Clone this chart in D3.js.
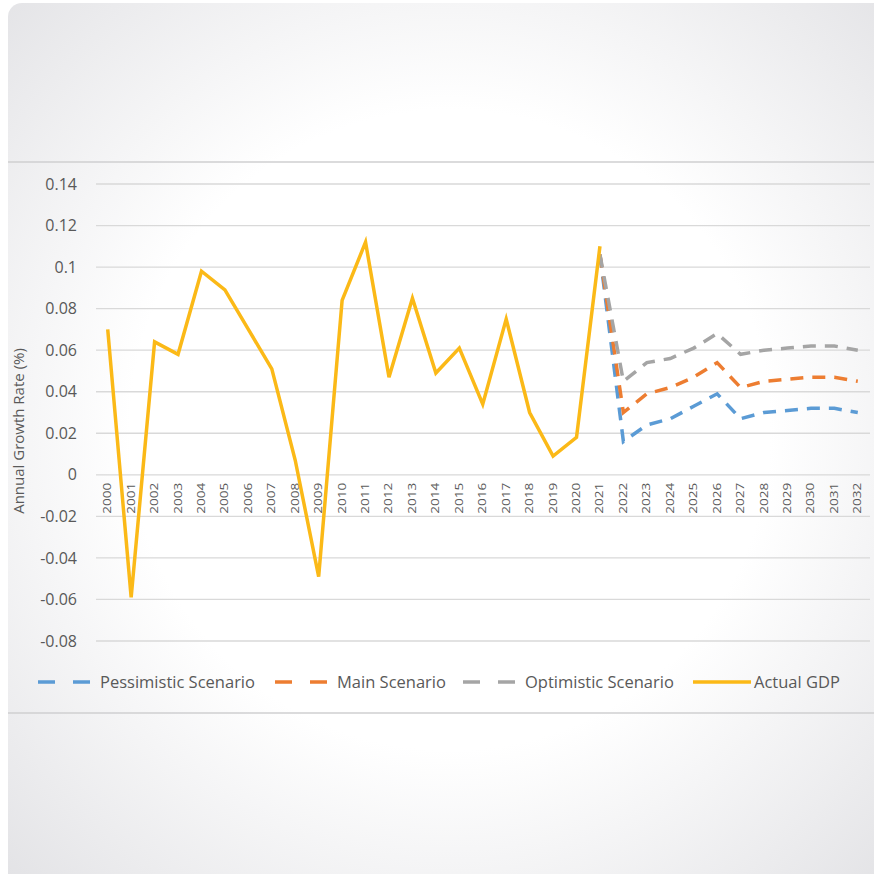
<!DOCTYPE html>
<html>
  <head>
    <meta charset="utf-8">
    <title>Annual Growth Rate</title>
    <script src="https://cdn.jsdelivr.net/npm/d3@7"></script>
    <style>
      body { margin: 0; background: #fff; }
      text { font-family: "Open Sans", "Liberation Sans", sans-serif; fill: #595959; }
    </style>
  </head>
  <body>
    <svg id="chart"></svg>
    <script>
// category labels
const years = ['2000', '2001', '2002', '2003', '2004', '2005', '2006', '2007', '2008', '2009', '2010',
  '2011', '2012', '2013', '2014', '2015', '2016', '2017', '2018', '2019', '2020', '2021',
  '2022', '2023', '2024', '2025', '2026', '2027', '2028', '2029', '2030', '2031', '2032'];

// actual GDP growth, 2000 - 2021
const actualGdp = [0.070, -0.059, 0.064, 0.058, 0.098, 0.089, 0.070, 0.051, 0.007, -0.049, 0.084,
  0.112, 0.047, 0.085, 0.049, 0.061, 0.034, 0.075, 0.030, 0.009, 0.018, 0.110];

// scenarios, 2021 - 2032
const scenarioYears = ['2021', '2022', '2023', '2024', '2025', '2026', '2027', '2028', '2029', '2030', '2031', '2032'];
const pessimistic = [0.106, 0.016, 0.024, 0.027, 0.033, 0.039, 0.027, 0.030, 0.031, 0.032, 0.032, 0.030];
const mainScenario = [0.106, 0.030, 0.039, 0.042, 0.047, 0.054, 0.042, 0.045, 0.046, 0.047, 0.047, 0.045];
const optimistic = [0.106, 0.045, 0.054, 0.056, 0.061, 0.068, 0.058, 0.060, 0.061, 0.062, 0.062, 0.060];

const yTicks = [0.14, 0.12, 0.1, 0.08, 0.06, 0.04, 0.02, 0, -0.02, -0.04, -0.06, -0.08];

const W = 874, H = 874;
const svg = d3.select('#chart').attr('width', W).attr('height', H);

// card background with soft radial shading
const defs = svg.append('defs');
const grad = defs.append('radialGradient')
  .attr('id', 'bg')
  .attr('gradientUnits', 'userSpaceOnUse')
  .attr('cx', 450).attr('cy', 430).attr('r', 640);
grad.append('stop').attr('offset', 0).attr('stop-color', '#ffffff');
grad.append('stop').attr('offset', 0.5).attr('stop-color', '#ffffff');
grad.append('stop').attr('offset', 1).attr('stop-color', '#e2e2e5');

svg.append('rect')
  .attr('x', 8).attr('y', 3)
  .attr('width', 880).attr('height', 890)
  .attr('rx', 14)
  .attr('fill', 'url(#bg)');

// separators above and below chart
[162, 713].forEach(y => {
  svg.append('line')
    .attr('x1', 8).attr('x2', W)
    .attr('y1', y).attr('y2', y)
    .attr('stroke', '#cfcfd1')
    .attr('stroke-width', 1.5);
});

const x = d3.scalePoint()
  .domain(years)
  .range([96, 869.5])
  .padding(0.5);

const y = d3.scaleLinear()
  .domain([-0.08, 0.14])
  .range([641, 184]);

// gridlines
svg.append('g')
  .selectAll('line')
  .data(yTicks)
  .join('line')
  .attr('x1', 96).attr('x2', 870)
  .attr('y1', d => y(d)).attr('y2', d => y(d))
  .attr('stroke', '#d9d9d9')
  .attr('stroke-width', 1.3);

// y tick labels (plain hyphen minus, like the original)
svg.append('g')
  .selectAll('text')
  .data(yTicks)
  .join('text')
  .attr('x', 77)
  .attr('y', d => y(d))
  .attr('dy', '0.35em')
  .attr('text-anchor', 'end')
  .attr('font-size', 16)
  .text(d => String(d));

// x labels, rotated, hanging under the zero line (narrow glyphs)
svg.append('g')
  .selectAll('text')
  .data(years)
  .join('text')
  .attr('transform', d => `translate(${x(d) + 3.5},${y(0) + 8}) rotate(-90)`)
  .attr('text-anchor', 'end')
  .attr('font-size', 10.5)
  .attr('textLength', 31)
  .attr('lengthAdjust', 'spacingAndGlyphs')
  .attr('fill', '#6a6a6a')
  .text(d => d);

// y axis title
svg.append('text')
  .attr('transform', 'translate(24,431) rotate(-90)')
  .attr('text-anchor', 'middle')
  .attr('font-size', 15)
  .text('Annual Growth Rate (%)');

const line = d3.line()
  .x(d => x(d[0]))
  .y(d => y(d[1]));

const series = [
  { name: 'Pessimistic Scenario', cats: scenarioYears, vals: pessimistic, color: '#5b9bd5', dash: '13,9' },
  { name: 'Main Scenario', cats: scenarioYears, vals: mainScenario, color: '#ed7d31', dash: '13,9' },
  { name: 'Optimistic Scenario', cats: scenarioYears, vals: optimistic, color: '#a5a5a5', dash: '13,9' },
  { name: 'Actual GDP', cats: years.slice(0, actualGdp.length), vals: actualGdp, color: '#fbb917', dash: null }
];

series.forEach(s => {
  svg.append('path')
    .datum(s.cats.map((c, i) => [c, s.vals[i]]))
    .attr('d', line)
    .attr('fill', 'none')
    .attr('stroke', s.color)
    .attr('stroke-width', 3.5)
    .attr('stroke-linejoin', 'miter')
    .attr('stroke-dasharray', s.dash);
});

// legend
const legendX = [38, 275, 463, 693];
const legend = svg.append('g');
series.forEach((s, i) => {
  const lx = legendX[i];
  const sampleW = s.dash ? 52 : 58;
  legend.append('line')
    .attr('x1', lx).attr('x2', lx + sampleW)
    .attr('y1', 682).attr('y2', 682)
    .attr('stroke', s.color)
    .attr('stroke-width', 3.5)
    .attr('stroke-dasharray', s.dash ? '17,18' : null);
  legend.append('text')
    .attr('x', lx + sampleW + (s.dash ? 10 : 3))
    .attr('y', 682)
    .attr('dy', '0.35em')
    .attr('font-size', 16.5)
    .text(s.name);
});
    </script>
  </body>
</html>
